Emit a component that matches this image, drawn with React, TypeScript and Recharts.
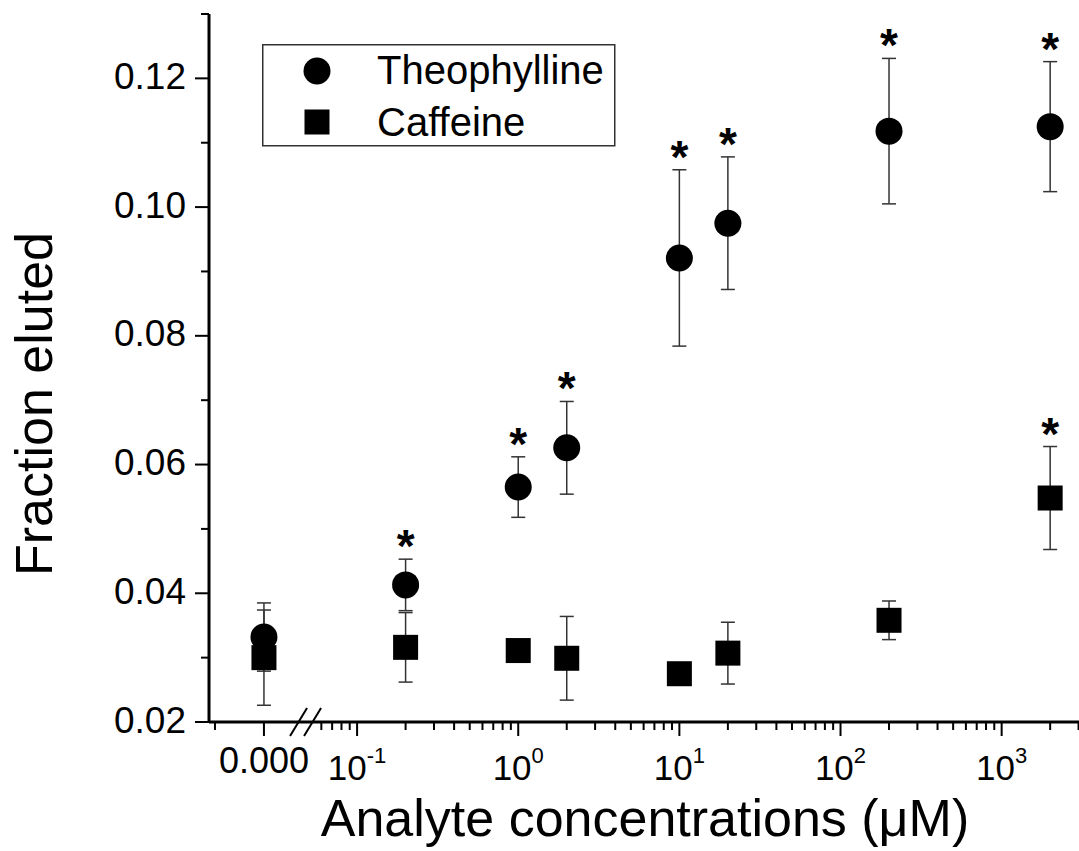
import React from 'react';
import { ScatterChart, Scatter, XAxis, YAxis, ErrorBar, Legend } from 'recharts';

const FONT = '"Liberation Sans", Arial, Helvetica, sans-serif';

// analyte concentration in µM; 0 is the blank, drawn left of the axis break
const CONC = [0, 0.2, 1, 2, 10, 20, 200, 2000];

const THEO = [0.0332, 0.0413, 0.0565, 0.0626, 0.0921, 0.0975, 0.1118, 0.1125];
const THEO_ERR = [0.0053, 0.004, 0.0047, 0.0072, 0.0137, 0.0103, 0.0113, 0.0101];
const THEO_SIG = [false, true, true, true, true, true, true, true];

const CAF = [0.03, 0.0316, 0.0311, 0.0299, 0.0275, 0.0307, 0.0358, 0.0548];
const CAF_ERR = [0.0074, 0.0054, 0.0012, 0.0065, 0.001, 0.0048, 0.003, 0.008];
const CAF_SIG = [false, false, false, false, false, false, false, true];

const Y_TICKS = [0.02, 0.03, 0.04, 0.05, 0.06, 0.07, 0.08, 0.09, 0.1, 0.11, 0.12, 0.13];
const X_EXPONENTS = [-1, 0, 1, 2, 3];

// broken axis: log10 scale on the right, the blank sits on its own stub
const ZERO_POS = -1.578;
const ZERO_MINOR_POS = -1.882;
const BREAK_POS = -1.323;
const X_MIN = -1.919;
const X_MAX = 3.48;

const toPos = (c: number) => (c === 0 ? ZERO_POS : Math.log10(c));

type XTickInfo = { pos: number; kind: 'zero' | 'major' | 'minor' | 'break'; exp?: number };

const xTicks: XTickInfo[] = [
  { pos: ZERO_MINOR_POS, kind: 'minor' },
  { pos: ZERO_POS, kind: 'zero' },
  { pos: BREAK_POS, kind: 'break' },
];
[0.06, 0.07, 0.08, 0.09].forEach((c) => xTicks.push({ pos: Math.log10(c), kind: 'minor' }));
X_EXPONENTS.forEach((e) => {
  xTicks.push({ pos: e, kind: 'major', exp: e });
  const top = e === 3 ? 3 : 9;
  for (let k = 2; k <= top; k++) xTicks.push({ pos: e + Math.log10(k), kind: 'minor' });
});
xTicks.sort((a, b) => a.pos - b.pos);

const theoData = CONC.map((c, i) => ({ pos: toPos(c), y: THEO[i], err: THEO_ERR[i] }));
const cafData = CONC.map((c, i) => ({ pos: toPos(c), y: CAF[i], err: CAF_ERR[i] }));
const starData = [
  ...CONC.filter((_, i) => THEO_SIG[i]).map((c) => {
    const i = CONC.indexOf(c);
    return { pos: toPos(c), y: THEO[i] + THEO_ERR[i] };
  }),
  ...CONC.filter((_, i) => CAF_SIG[i]).map((c) => {
    const i = CONC.indexOf(c);
    return { pos: toPos(c), y: CAF[i] + CAF_ERR[i] };
  }),
];

const XTick = (props: any) => {
  const { x, y, payload } = props;
  const t = xTicks.find((d) => Math.abs(d.pos - payload.value) < 1e-6);
  if (!t) return null;
  if (t.kind === 'break') {
    return (
      <g stroke="#000" strokeWidth={2}>
        <line x1={x - 15} y1={y + 14} x2={x + 2} y2={y - 14} />
        <line x1={x - 1} y1={y + 14} x2={x + 16} y2={y - 14} />
      </g>
    );
  }
  if (t.kind === 'minor') {
    return <line x1={x} y1={y} x2={x} y2={y + 8} stroke="#000" strokeWidth={2} />;
  }
  return (
    <g>
      <line x1={x} y1={y} x2={x} y2={y + 14} stroke="#000" strokeWidth={2} />
      {t.kind === 'zero' ? (
        <text x={x} y={y + 51} textAnchor="middle" fontSize={36} fontFamily={FONT} fill="#000">
          0.000
        </text>
      ) : (
        <text x={x} y={y + 58} textAnchor="middle" fontSize={35} fontFamily={FONT} fill="#000">
          10
          <tspan dy={-17} fontSize={22}>
            {t.exp}
          </tspan>
        </text>
      )}
    </g>
  );
};

const YTick = (props: any) => {
  const { x, y, payload } = props;
  const v = payload.value as number;
  const major = Math.round(v * 100) % 2 === 0;
  return (
    <g>
      <line x1={x} y1={y} x2={x - (major ? 14 : 8)} y2={y} stroke="#000" strokeWidth={2} />
      {major && (
        <text x={x - 23} y={y + 10.5} textAnchor="end" fontSize={37} fontFamily={FONT} fill="#000">
          {v.toFixed(2)}
        </text>
      )}
    </g>
  );
};

const Dot = (p: any) => <circle cx={p.cx} cy={p.cy} r={13.5} fill="#000" />;
const Square = (p: any) => <rect x={p.cx - 12.5} y={p.cy - 12.5} width={25} height={25} fill="#000" />;
const Star = (p: any) => (
  <text x={p.cx} y={p.cy + 3} textAnchor="middle" fontSize={46} fontWeight="bold" fontFamily={FONT} fill="#000">
    *
  </text>
);

const LegendBox = () => (
  <svg width={354} height={103}>
    <rect x={0.75} y={0.75} width={352} height={101} fill="#fff" stroke="#333" strokeWidth={1.5} />
    <circle cx={55} cy={27} r={13.5} fill="#000" />
    <rect x={42.5} y={65.5} width={25} height={25} fill="#000" />
    <text x={115} y={40} fontSize={40} fontFamily={FONT} fill="#000">
      Theophylline
    </text>
    <text x={115} y={92} fontSize={40} fontFamily={FONT} fill="#000">
      Caffeine
    </text>
  </svg>
);

export default function App() {
  return (
    <div style={{ position: 'absolute', left: 0, top: 0 }}>
      <ScatterChart width={1079} height={851} margin={{ top: 14, right: 0, bottom: 0, left: 0 }} style={{ fontFamily: FONT }}>
        <XAxis
          type="number"
          dataKey="pos"
          domain={[X_MIN, X_MAX]}
          ticks={xTicks.map((t) => t.pos)}
          interval={0}
          tick={<XTick />}
          tickLine={false}
          tickSize={0}
          tickMargin={0}
          height={129}
          stroke="#000"
          strokeWidth={3}
          axisLine={{ stroke: '#000', strokeWidth: 3 }}
          allowDataOverflow
          label={() => (
            <text x={645} y={836} textAnchor="middle" fontSize={52} fontFamily={FONT} fill="#000">
              Analyte concentrations (μM)
            </text>
          )}
        />
        <YAxis
          type="number"
          dataKey="y"
          domain={[0.02, 0.13]}
          ticks={Y_TICKS}
          interval={0}
          tick={<YTick />}
          tickLine={false}
          tickSize={0}
          tickMargin={0}
          width={209}
          stroke="#000"
          strokeWidth={3}
          axisLine={{ stroke: '#000', strokeWidth: 3 }}
          allowDataOverflow
          label={() => (
            <text x={52} y={404} transform="rotate(-90 52 404)" textAnchor="middle" fontSize={52} fontFamily={FONT} fill="#000">
              Fraction eluted
            </text>
          )}
        />
        <Legend
          layout="vertical"
          align="center"
          verticalAlign="middle"
          width={354}
          height={103}
          wrapperStyle={{ left: 262, top: 44, width: 354, height: 103 }}
          content={<LegendBox />}
        />
        <Scatter name="Theophylline" data={theoData} fill="#000" shape={Dot} isAnimationActive={false}>
          <ErrorBar dataKey="err" direction="y" width={7} stroke="#333" strokeWidth={1.5} isAnimationActive={false} />
        </Scatter>
        <Scatter name="Caffeine" data={cafData} fill="#000" shape={Square} isAnimationActive={false}>
          <ErrorBar dataKey="err" direction="y" width={7} stroke="#333" strokeWidth={1.5} isAnimationActive={false} />
        </Scatter>
        <Scatter name="sig" data={starData} fill="#000" shape={Star} isAnimationActive={false} legendType="none" />
      </ScatterChart>
    </div>
  );
}
